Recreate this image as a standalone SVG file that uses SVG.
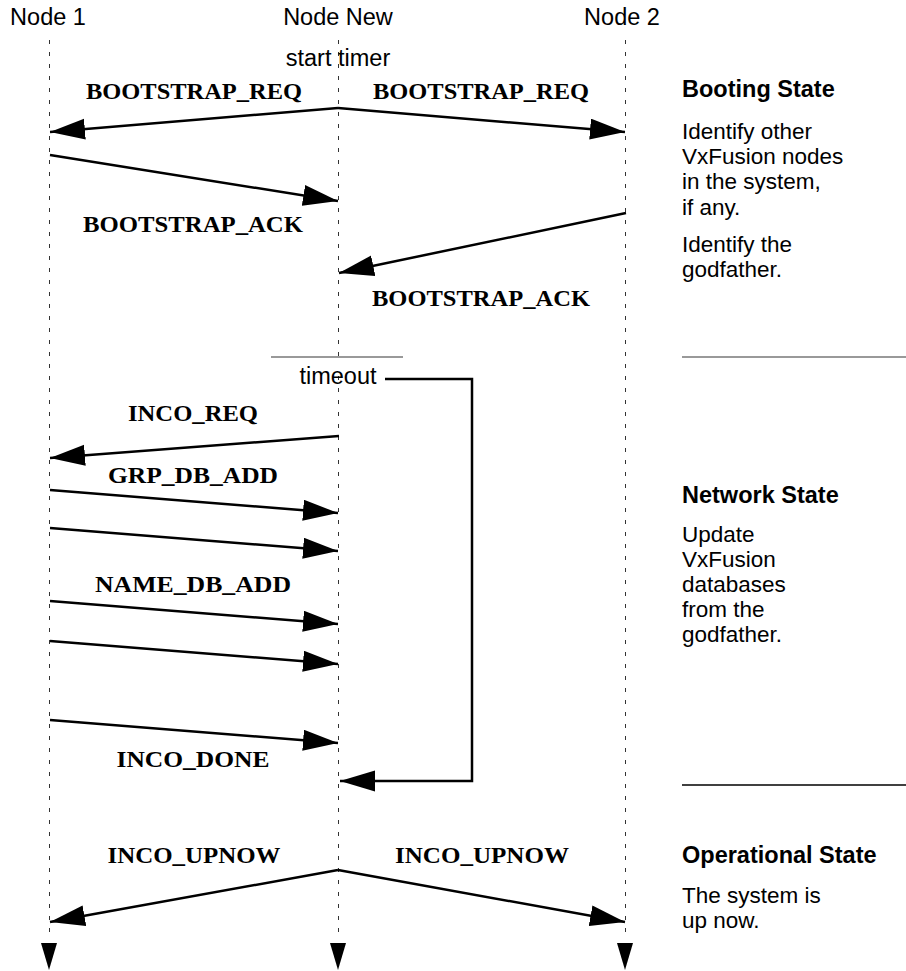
<svg xmlns="http://www.w3.org/2000/svg" width="906" height="971" viewBox="0 0 906 971">
<style>
.hdr{font-family:"Liberation Sans",Arial,sans-serif;font-size:23.5px;fill:#000;text-anchor:middle}
.msg{font-family:"Liberation Serif","Times New Roman",serif;font-size:23px;font-weight:bold;fill:#000;text-anchor:middle}
.st{font-family:"Liberation Sans",Arial,sans-serif;font-size:23.5px;font-weight:bold;fill:#000}
.desc{font-family:"Liberation Sans",Arial,sans-serif;font-size:22.5px;fill:#000}
.life{stroke:#333;stroke-width:1;stroke-dasharray:4 8;fill:none}
.arr{stroke:#000;stroke-width:2.5;fill:none;marker-end:url(#ah)}
.sep{stroke:#000;stroke-width:1.5}
.sepg{stroke:#777;stroke-width:1.5}
.tip{fill:#000}
</style>
<defs>
<marker id="ah" markerUnits="userSpaceOnUse" markerWidth="36" markerHeight="22" refX="35" refY="10.5" orient="auto">
<path d="M0,0 L35,10.5 L0,21 Z" fill="#000"/>
</marker>
</defs>
<rect width="906" height="971" fill="#fff"/>

<g id="node1">
<text class="hdr" x="48" y="25">Node 1</text>
<line class="life" x1="49.5" y1="40" x2="49.5" y2="940"/>
<polygon class="tip" points="41,943 57,943 49,970"/>
</g>
<g id="nodeNew">
<text class="hdr" x="338" y="25">Node New</text>
<line class="life" x1="338.5" y1="40" x2="338.5" y2="940"/>
<polygon class="tip" points="330,943 346,943 338,970"/>
<text class="hdr" x="338" y="66">start timer</text>
<line class="sepg" x1="271" y1="357" x2="403" y2="357"/>
<rect x="294" y="363" width="88" height="6" fill="#fff"/>
<text class="hdr" x="338" y="384">timeout</text>
</g>
<g id="node2">
<text class="hdr" x="622" y="25">Node 2</text>
<line class="life" x1="625.5" y1="40" x2="625.5" y2="940"/>
<polygon class="tip" points="617,943 633,943 625,970"/>
</g>

<g id="booting-state">
<text class="st" x="682" y="97">Booting State</text>
<text class="desc" x="682" y="139">Identify other</text>
<text class="desc" x="682" y="164.2">VxFusion nodes</text>
<text class="desc" x="682" y="189.4">in the system,</text>
<text class="desc" x="682" y="214.6">if any.</text>
<text class="desc" x="682" y="252">Identify the</text>
<text class="desc" x="682" y="277.2">godfather.</text>
<line class="sepg" x1="682" y1="357" x2="906" y2="357"/>
</g>
<g id="network-state">
<text class="st" x="682" y="503">Network State</text>
<text class="desc" x="682" y="541.6">Update</text>
<text class="desc" x="682" y="566.8">VxFusion</text>
<text class="desc" x="682" y="592">databases</text>
<text class="desc" x="682" y="617.2">from the</text>
<text class="desc" x="682" y="642.4">godfather.</text>
<line class="sep" x1="682" y1="785" x2="906" y2="785"/>
</g>
<g id="operational-state">
<text class="st" x="682" y="863">Operational State</text>
<text class="desc" x="682" y="903">The system is</text>
<text class="desc" x="682" y="928.2">up now.</text>
</g>

<g id="connectors">
<path class="arr" d="M338,108 L50,132"/>
<path class="arr" d="M338,108 L625,132"/>
<path class="arr" d="M50,155 L338,201"/>
<path class="arr" d="M626,213 L339,273"/>
<path class="arr" d="M385,379 L472,379 L472,781 L340,781"/>
<path class="arr" d="M339,436 L50,458"/>
<path class="arr" d="M50,490 L338,513"/>
<path class="arr" d="M50,528 L338,551"/>
<path class="arr" d="M50,601 L338,624"/>
<path class="arr" d="M50,641 L338,664"/>
<path class="arr" d="M50,720 L338,743"/>
<path class="arr" d="M338,870 L50,922"/>
<path class="arr" d="M338,870 L625,922"/>
</g>

<g id="labels">
<text class="msg" x="194" y="99" textLength="216" lengthAdjust="spacingAndGlyphs">BOOTSTRAP_REQ</text>
<text class="msg" x="481" y="99" textLength="216" lengthAdjust="spacingAndGlyphs">BOOTSTRAP_REQ</text>
<text class="msg" x="193" y="232" textLength="220" lengthAdjust="spacingAndGlyphs">BOOTSTRAP_ACK</text>
<text class="msg" x="481" y="306" textLength="218" lengthAdjust="spacingAndGlyphs">BOOTSTRAP_ACK</text>
<text class="msg" x="193" y="421" textLength="130" lengthAdjust="spacingAndGlyphs">INCO_REQ</text>
<text class="msg" x="193" y="483" textLength="170" lengthAdjust="spacingAndGlyphs">GRP_DB_ADD</text>
<text class="msg" x="193" y="592" textLength="196" lengthAdjust="spacingAndGlyphs">NAME_DB_ADD</text>
<text class="msg" x="193" y="767" textLength="153" lengthAdjust="spacingAndGlyphs">INCO_DONE</text>
<text class="msg" x="194" y="863" textLength="173" lengthAdjust="spacingAndGlyphs">INCO_UPNOW</text>
<text class="msg" x="482" y="863" textLength="174" lengthAdjust="spacingAndGlyphs">INCO_UPNOW</text>
</g>
</svg>
